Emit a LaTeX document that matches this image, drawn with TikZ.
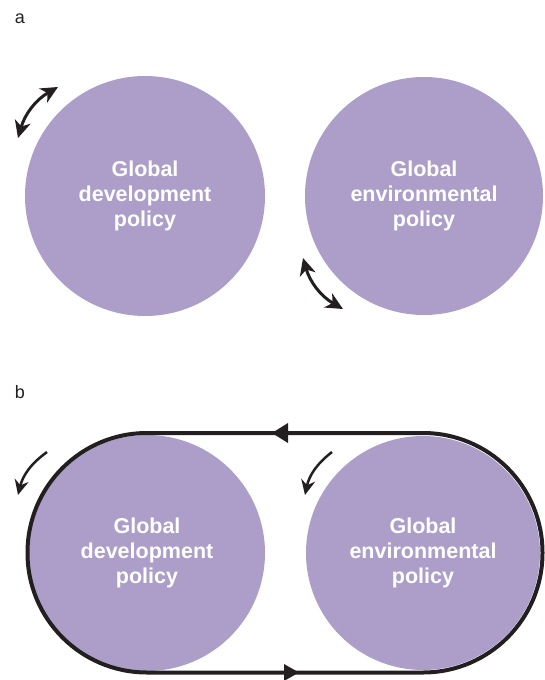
\documentclass[tikz,border=0pt]{standalone}
\usepackage{fontspec}
\setmainfont{Liberation Sans}
\usetikzlibrary{arrows.meta}
\definecolor{bubblefill}{HTML}{AC9EC8}
\definecolor{ink}{HTML}{231F20}
\tikzset{
  bubble/.style={circle, fill=bubblefill, draw=none, inner sep=0pt, text=white,
    font=\fontsize{21.5}{25}\selectfont\bfseries, align=center},
  panellabel/.style={font=\fontsize{18}{20}\selectfont, text=ink},
  dbl/.style={ink, line width=3pt, {Stealth[length=17pt,width=16pt,inset=5pt]}-{Stealth[length=17pt,width=16pt,inset=5pt]}},
  sgl/.style={ink, line width=2.5pt, -{Stealth[length=15pt,width=14pt,inset=5pt]}},
  loop/.style={ink, line width=4pt},
}
\begin{document}
\begin{tikzpicture}[x=1pt,y=-1pt]
\useasboundingbox (0,0) rectangle (544,680);
% panel a
\node[panellabel] (la) at (20,19) {a};
\node[bubble, minimum size=240pt] (ga) at (145,196) {Global\\development\\policy};
\node[bubble, minimum size=238pt] (ea) at (424,196) {Global\\environmental\\policy};
\coordinate (a1s) at (18,138);
\coordinate (a1e) at (58,87);
\coordinate (a2s) at (303,258);
\coordinate (a2e) at (343,309);
\draw[dbl] (a1s) to[bend left=22] (a1e);
\draw[dbl] (a2s) to[bend right=22] (a2e);
% panel b
\node[panellabel] (lb) at (20,392) {b};
\node[bubble, minimum size=236pt] (gb) at (147,553) {Global\\development\\policy};
\node[bubble, minimum size=234pt] (eb) at (423,553) {Global\\environmental\\policy};
\draw[loop, rounded corners=119.5pt] (27.5,433) rectangle (542.5,672.5);
\fill[ink] (272,433) -- (288,423) -- (288,443) -- cycle;
\fill[ink] (299,672.5) -- (284,664) -- (284,681) -- cycle;
\coordinate (b1s) at (47,452);
\coordinate (b1e) at (18,495);
\coordinate (b2s) at (332,452);
\coordinate (b2e) at (305,495);
\draw[sgl] (b1s) to[bend right=20] (b1e);
\draw[sgl] (b2s) to[bend right=20] (b2e);
\end{tikzpicture}
\end{document}
